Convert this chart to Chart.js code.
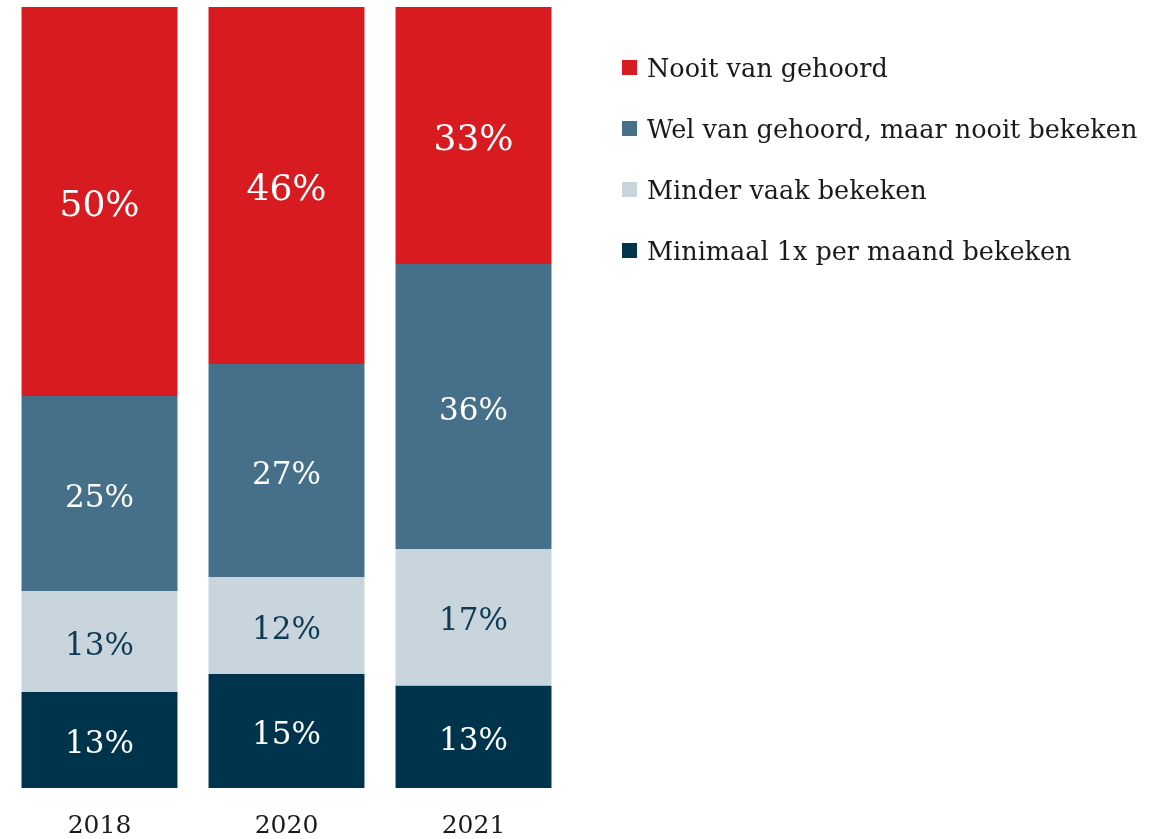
<!DOCTYPE html>
<html>
<head>
<meta charset="utf-8">
<script src="https://cdn.jsdelivr.net/npm/chart.js@4/dist/chart.umd.min.js"></script>
<style>
  html, body { margin: 0; padding: 0; background: #fff; }
  #wrap { position: relative; width: 1166px; height: 839px; }
  #legend { position: absolute; left: 622px; top: 37px; font-family: 'DejaVu Serif', serif; font-size: 25.5px; color: #1a1a1a; }
  .item { display: flex; align-items: center; height: 61px; white-space: nowrap; }
  .swatch { width: 15px; height: 15px; margin-right: 10px; }
</style>
</head>
<body>
<div id="wrap">
  <canvas id="chart" width="1166" height="839"></canvas>
  <div id="legend"></div>
</div>
<script>
const years = ["2018", "2020", "2021"];
const seriesNames = ["Minimaal 1x per maand bekeken", "Minder vaak bekeken", "Wel van gehoord, maar nooit bekeken", "Nooit van gehoord"];

// share of each bar
const monthly = [12.3, 14.6, 13.1];
const lessOften = [12.9, 12.4, 17.5];
const heardNotSeen = [25.0, 27.3, 36.5];
const neverHeard = [49.8, 45.7, 32.9];

// percentages printed in the bars
const monthlyPct = [13, 15, 13];
const lessOftenPct = [13, 12, 17];
const heardNotSeenPct = [25, 27, 36];
const neverHeardPct = [50, 46, 33];

const colors = ["#00344c", "#c8d5dc", "#46708a", "#d81b21"];
const labelColors = ["#ffffff", "#0f3a52", "#ffffff", "#ffffff"];
const labelSizes = [31, 31, 31, 36];

const values = [monthly, lessOften, heardNotSeen, neverHeard];
const printed = [monthlyPct, lessOftenPct, heardNotSeenPct, neverHeardPct];

// draws the percentage in the middle of each segment
const barLabels = {
    id: "barLabels",
    afterDatasetsDraw(chart) {
        const ctx = chart.ctx;
        chart.data.datasets.forEach((ds, i) => {
            chart.getDatasetMeta(i).data.forEach((bar, j) => {
                ctx.save();
                ctx.font = labelSizes[i] + "px 'DejaVu Serif'";
                ctx.fillStyle = labelColors[i];
                ctx.textAlign = "center";
                ctx.textBaseline = "middle";
                ctx.fillText(printed[i][j] + "%", bar.x, (bar.y + bar.base) / 2 + 5);
                ctx.restore();
            });
        });
    }
};

const chart = new Chart(document.getElementById("chart"), {
    type: "bar",
    data: {
        labels: years,
        datasets: values.map((v, i) => ({
            label: seriesNames[i],
            data: v,
            backgroundColor: colors[i],
            borderWidth: 0,
            barPercentage: 0.834,
            categoryPercentage: 1
        }))
    },
    options: {
        responsive: false,
        animation: false,
        devicePixelRatio: 1,
        layout: { padding: { left: 6, right: 599, top: 7, bottom: 0 } },
        plugins: { legend: { display: false }, tooltip: { enabled: false } },
        scales: {
            x: {
                stacked: true,
                grid: { display: false, drawTicks: false },
                border: { display: false },
                ticks: { color: "#1a1a1a", font: { family: "DejaVu Serif", size: 25 }, padding: 23 },
                afterFit(scale) { scale.height = 51; }
            },
            y: { stacked: true, display: false, min: 0, max: 100 }
        }
    },
    plugins: [barLabels]
});

// legend, top to bottom in reverse stacking order
const legend = document.getElementById("legend");
for (let i = seriesNames.length - 1; i >= 0; i--) {
    const item = document.createElement("div");
    item.className = "item";
    item.innerHTML = `<span class="swatch" style="background:${colors[i]}"></span><span>${seriesNames[i]}</span>`;
    legend.appendChild(item);
}
</script>
</body>
</html>
